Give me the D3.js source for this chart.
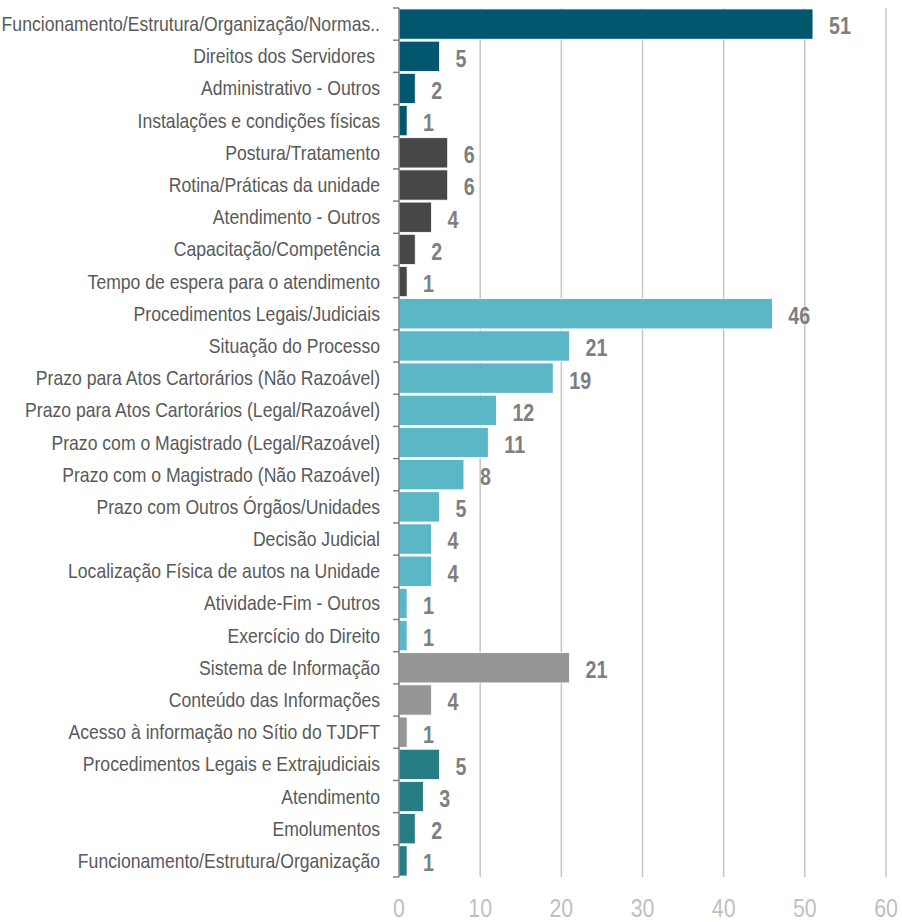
<!DOCTYPE html>
<html>
  <head>
    <meta charset="utf-8">
    <title>Categorias</title>
    <style>
      body { margin: 0; background: #fff; }
      text { font-family: "Liberation Sans", Arial, sans-serif; }
    </style>
  </head>
  <body>
    <div id="chart"></div>
    <script src="https://d3js.org/d3.v7.min.js"></script>
    <script>
    var categories = [
      "Funcionamento/Estrutura/Organização/Normas..",
      "Direitos dos Servidores ",
      "Administrativo - Outros",
      "Instalações e condições físicas",
      "Postura/Tratamento",
      "Rotina/Práticas da unidade",
      "Atendimento - Outros",
      "Capacitação/Competência",
      "Tempo de espera para o atendimento",
      "Procedimentos Legais/Judiciais",
      "Situação do Processo",
      "Prazo para Atos Cartorários (Não Razoável)",
      "Prazo para Atos Cartorários (Legal/Razoável)",
      "Prazo com o Magistrado (Legal/Razoável)",
      "Prazo com o Magistrado (Não Razoável)",
      "Prazo com Outros Órgãos/Unidades",
      "Decisão Judicial",
      "Localização Física de autos na Unidade",
      "Atividade-Fim - Outros",
      "Exercício do Direito",
      "Sistema de Informação",
      "Conteúdo das Informações",
      "Acesso à informação no Sítio do TJDFT",
      "Procedimentos Legais e Extrajudiciais",
      "Atendimento",
      "Emolumentos",
      "Funcionamento/Estrutura/Organização"
    ];
    var values = [51, 5, 2, 1, 6, 6, 4, 2, 1, 46, 21, 19, 12, 11, 8, 5, 4, 4, 1, 1, 21, 4, 1, 5, 3, 2, 1];
    // group index of each bar -> colour
    var groups = [0, 0, 0, 0, 1, 1, 1, 1, 1, 2, 2, 2, 2, 2, 2, 2, 2, 2, 2, 2, 3, 3, 3, 4, 4, 4, 4];
    var groupColors = ["#02576f", "#474747", "#5bb7c6", "#969696", "#277d84"];
    var xTicks = [0, 10, 20, 30, 40, 50, 60];

    var width = 902, height = 922;
    var margin = {top: 8, right: 16, bottom: 45, left: 399};

    var svg = d3.select("#chart").append("svg")
      .attr("width", width)
      .attr("height", height);

    var x = d3.scaleLinear().domain([0, 60]).range([margin.left, width - margin.right]);
    var y = d3.scaleBand().domain(d3.range(categories.length))
      .range([margin.top, height - margin.bottom])
      .paddingInner(0.06).paddingOuter(0.03);

    // squeeze Liberation Sans horizontally so it reads like Arial Narrow
    function place(px, py, k) {
      return "translate(" + px + "," + py + ") scale(" + k + ",1)";
    }

    // vertical gridlines
    svg.append("g").selectAll("line")
      .data(xTicks.slice(1))
      .enter().append("line")
      .attr("x1", function(d) { return x(d); })
      .attr("x2", function(d) { return x(d); })
      .attr("y1", margin.top)
      .attr("y2", height - margin.bottom)
      .attr("stroke", "#c6c6c6")
      .attr("stroke-width", 1.5);

    // bars
    svg.append("g").selectAll("rect")
      .data(values)
      .enter().append("rect")
      .attr("x", x(0))
      .attr("y", function(d, i) { return y(i); })
      .attr("width", function(d) { return x(d) - x(0); })
      .attr("height", y.bandwidth())
      .attr("fill", function(d, i) { return groupColors[groups[i]]; })
      .attr("stroke", "#ffffff")
      .attr("stroke-width", 0.8);

    // value labels
    svg.append("g").selectAll("text")
      .data(values)
      .enter().append("text")
      .attr("transform", function(d, i) { return place(x(d) + 16, y(i) + y.bandwidth() / 2 + 2, 0.82); })
      .attr("dy", "0.35em")
      .attr("fill", "#7f7f7f")
      .attr("font-size", 24)
      .attr("font-weight", "bold")
      .text(function(d) { return d; });

    // left axis line and ticks between categories
    var bounds = d3.range(categories.length + 1).map(function(i) {
      return margin.top + i * (height - margin.bottom - margin.top) / categories.length;
    });
    var yAxis = svg.append("g").attr("transform", "translate(" + x(0) + ",0)");
    yAxis.append("line")
      .attr("x1", 0).attr("x2", 0)
      .attr("y1", bounds[0]).attr("y2", bounds[bounds.length - 1])
      .attr("stroke", "#7f7f7f").attr("stroke-width", 1.5);
    yAxis.selectAll(".tk")
      .data(bounds)
      .enter().append("line")
      .attr("x1", -6).attr("x2", 0)
      .attr("y1", function(d) { return d; }).attr("y2", function(d) { return d; })
      .attr("stroke", "#7f7f7f").attr("stroke-width", 1.5);

    // category labels
    svg.append("g").selectAll("text")
      .data(categories)
      .enter().append("text")
      .attr("transform", function(d, i) { return place(380, y(i) + y.bandwidth() / 2, 0.88); })
      .attr("dy", "0.35em")
      .attr("text-anchor", "end")
      .attr("fill", "#595959")
      .attr("font-size", 20)
      .style("white-space", "pre")
      .text(function(d) { return d; });

    // bottom tick labels
    svg.append("g").selectAll("text")
      .data(xTicks)
      .enter().append("text")
      .attr("transform", function(d) { return place(x(d), 908, 0.82); })
      .attr("dy", "0.35em")
      .attr("text-anchor", "middle")
      .attr("fill", "#bfbfbf")
      .attr("font-size", 26)
      .text(function(d) { return d; });
    </script>
  </body>
</html>
